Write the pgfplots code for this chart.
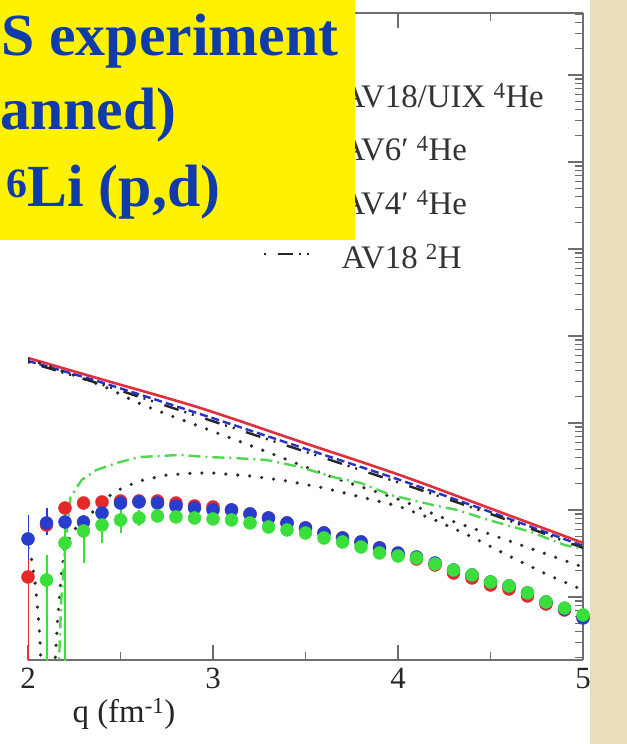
\documentclass[border=0pt]{standalone}
\usepackage{fontspec}
\setmainfont{Liberation Serif}
\usepackage{pgfplots}
\pgfplotsset{compat=1.18}
\usepackage{pgfplotstable}

\definecolor{lRed}{RGB}{226,45,60}
\definecolor{lBlue}{RGB}{40,50,200}
\definecolor{lGreen}{RGB}{80,215,80}
\definecolor{lDot}{RGB}{45,45,45}
\definecolor{dRed}{RGB}{232,40,40}
\definecolor{dBlue}{RGB}{40,60,205}
\definecolor{dGreen}{RGB}{60,222,60}
\definecolor{titleBlue}{RGB}{15,60,170}
\definecolor{beigeC}{RGB}{232,222,185}
\definecolor{axGray}{RGB}{110,110,110}

% AV18/UIX 4He (pn)
\pgfplotstableread{
q v
2.00 0.558
2.39 0.321
2.93 0.149
3.47 0.0612
4.01 0.0252
4.50 0.0104
5.00 0.00418
}\redline
% AV6' 4He (pn)
\pgfplotstableread{
q v
2.00 0.516
2.39 0.296
2.93 0.1268
3.47 0.0530
4.01 0.02213
4.50 0.00948
5.00 0.00386
}\blueline
% AV4' 4He (pn)
\pgfplotstableread{
q v
2.000 0.545
2.390 0.2735
2.623 0.161
3.023 0.0767
3.294 0.0464
3.473 0.0329
3.689 0.0221
4.014 0.0130
4.231 0.00832
4.447 0.00574
4.664 0.00396
5.000 0.00221
}\dotupper
% AV18 2H
\pgfplotstableread{
q v
2.00 0.502
2.39 0.2805
2.93 0.1172
3.47 0.0490
4.01 0.0204
4.50 0.0090
5.00 0.00366
}\dashdot
% AV4' 4He (pp)
\pgfplotstableread{
q v
2.000 0.00366
2.020 0.00266
2.040 0.001374
2.060 0.000476
2.075 0.000111
2.140 0.000111
2.160 0.000544
2.180 0.00179
2.200 0.00366
2.230 0.00516
2.280 0.0071
2.350 0.00948
2.430 0.01409
2.500 0.01742
2.600 0.02153
2.750 0.02523
2.900 0.0266
3.000 0.0266
3.200 0.0246
3.400 0.02153
3.600 0.0179
3.800 0.01409
4.000 0.01112
4.200 0.00767
4.400 0.0049
4.600 0.00296
4.800 0.001837
5.000 0.0012
}\dotlower
% green dash-dot
\pgfplotstableread{
q v
2.16 0.000065
2.18 0.000924
2.20 0.00347
2.23 0.01409
2.29 0.0221
2.37 0.02884
2.48 0.0347
2.60 0.0406
2.82 0.0429
2.97 0.0406
3.11 0.0396
3.29 0.0376
3.47 0.0312
3.65 0.0239
3.80 0.0204
3.96 0.01486
4.19 0.0114
4.32 0.0100
4.49 0.00767
4.72 0.00558
4.90 0.00396
5.00 0.00356
}\greenline

\pgfplotstableread{
q v ep em
2.0 0.001698 0.00134 0.00169
2.1 0.006723 0 0
2.2 0.01054 0 0
2.3 0.01203 0 0
2.4 0.01236 0 0
2.5 0.01269 0 0
2.6 0.01269 0 0
2.7 0.01269 0 0
2.8 0.01203 0 0
2.9 0.01112 0 0
3.0 0.01083 0 0
3.1 0.0100 0 0
3.2 0.008995 0 0
3.3 0.008092 0 0
3.4 0.007089 0 0
3.5 0.006210 0 0
3.6 0.005440 0 0
3.7 0.004766 0 0
3.8 0.004287 0 0
3.9 0.003658 0 0
4.0 0.003039 0 0
4.1 0.002734 0 0
4.2 0.002332 0 0
4.3 0.001887 0 0
4.4 0.001654 0 0
4.5 0.001374 0 0
4.6 0.001236 0 0
4.7 0.001027 0 0
4.8 0.000831 0 0
4.9 0.000709 0 0
5.0 0.000589 0 0
}\redpts
\pgfplotstableread{
q v ep em
2.0 0.004642 0.00412 0.00198
2.1 0.007089 0.00345 0.00193
2.2 0.007279 0 0
2.3 0.007279 0 0
2.4 0.009236 0 0
2.5 0.01203 0 0
2.6 0.01236 0 0
2.7 0.01203 0 0
2.8 0.01112 0 0
2.9 0.01054 0 0
3.0 0.0100 0 0
3.1 0.0100 0 0
3.2 0.008995 0 0
3.3 0.008092 0 0
3.4 0.007089 0 0
3.5 0.006210 0 0
3.6 0.005440 0 0
3.7 0.004766 0 0
3.8 0.004287 0 0
3.9 0.003658 0 0
4.0 0.003204 0 0
4.1 0.002882 0 0
4.2 0.002459 0 0
4.3 0.002043 0 0
4.4 0.001790 0 0
4.5 0.001487 0 0
4.6 0.001338 0 0
4.7 0.001112 0 0
4.8 0.000876 0 0
4.9 0.000728 0 0
5.0 0.000574 0 0
}\bluepts
\pgfplotstableread{
q v ep em
2.1 0.001568 0.00147 0.00156
2.2 0.004175 0.00724 0.00417
2.3 0.005736 0.00302 0.00328
2.4 0.006723 0.00328 0.00255
2.5 0.007675 0.00316 0.00224
2.6 0.008092 0.0019 0.00154
2.7 0.008531 0 0
2.8 0.008309 0 0
2.9 0.008092 0 0
3.0 0.007881 0 0
3.1 0.007675 0 0
3.2 0.007089 0 0
3.3 0.006376 0 0
3.4 0.005890 0 0
3.5 0.005440 0 0
3.6 0.004766 0 0
3.7 0.004287 0 0
3.8 0.003756 0 0
3.9 0.003204 0 0
4.0 0.002960 0 0
4.1 0.002807 0 0
4.2 0.002395 0 0
4.3 0.002043 0 0
4.4 0.001790 0 0
4.5 0.001487 0 0
4.6 0.001338 0 0
4.7 0.001112 0 0
4.8 0.000876 0 0
4.9 0.000747 0 0
5.0 0.000621 0 0
}\greenpts

\begin{document}
\begin{tikzpicture}
\useasboundingbox (0,0) rectangle (627bp,744bp);
\clip (0,0) rectangle (627bp,744bp);
\fill[white] (0,0) rectangle (627bp,744bp);
\fill[beigeC] (590bp,0) rectangle (627bp,744bp);
\begin{axis}[
  at={(28bp,84bp)}, anchor=south west,
  scale only axis, width=555bp, height=647bp,
  xmin=2, xmax=5,
  ymode=log, ymin=1.887e-4, ymax=5159,
  axis x line*=box, axis y line*=right,
  axis line style={-, axGray, line width=1.6bp},
  every tick/.style={axGray, line width=1.3bp},
  tick align=inside,
  major tick length=15bp, minor tick length=8bp,
  xtick={2,3,4,5}, minor xtick={2.5,3.5,4.5},
  ytick={1e-3,1e-2,1e-1,1,10,100,1000},
  minor ytick={2e-4,3e-4,4e-4,5e-4,6e-4,7e-4,8e-4,9e-4,
    2e-3,3e-3,4e-3,5e-3,6e-3,7e-3,8e-3,9e-3,
    2e-2,3e-2,4e-2,5e-2,6e-2,7e-2,8e-2,9e-2,
    0.2,0.3,0.4,0.5,0.6,0.7,0.8,0.9,
    2,3,4,5,6,7,8,9,20,30,40,50,60,70,80,90,
    200,300,400,500,600,700,800,900,2000,3000,4000,5000},
  yticklabels={},
  /pgf/number format/assume math mode=true,
  xticklabel style={font=\fontsize{31}{31}\selectfont, text=black!85, anchor=base, yshift=-28bp},
  xlabel={q (fm\textsuperscript{-1})},
  x label style={at={(axis description cs:0.173,0)}, anchor=base, yshift=-62bp, font=\fontsize{33}{33}\selectfont, text=black!85},
  legend style={draw=none, fill=none, at={(axis description cs:0.4216,0.8918)}, anchor=north west,
    inner sep=0pt, outer sep=0pt, row sep=21.7bp,
    font=\fontsize{33}{33}\selectfont, text=black!80,
    nodes={inner sep=0pt, text height=24bp, text depth=8bp},
    /tikz/every odd column/.append style={column sep=28bp}},
  legend cell align=left,
  legend image code/.code={\draw[#1] (0bp,6bp) -- (48bp,6bp);},
]
\addplot[lRed, line width=2.6bp, smooth] table[x=q,y=v] {\redline};
\addlegendentry{AV18/UIX \textsuperscript{4}He}
\addplot[lBlue, line width=2.4bp, dash pattern=on 8bp off 4bp, smooth] table[x=q,y=v] {\blueline};
\addlegendentry{AV6′ \textsuperscript{4}He}
\addplot[lDot, line width=3.6bp, line cap=round, dash pattern=on 0bp off 12bp, smooth] table[x=q,y=v] {\dotupper};
\addlegendentry{AV4′ \textsuperscript{4}He}
\addplot[black!85, line width=2.4bp, dash pattern=on 2bp off 12bp on 15bp off 6bp on 2bp off 6bp, smooth] table[x=q,y=v] {\dashdot};
\addlegendentry{AV18 \textsuperscript{2}H}
\addplot[lDot, line width=3.6bp, line cap=round, dash pattern=on 0bp off 12bp, forget plot] table[x=q,y=v] {\dotlower};
\addplot[lGreen, line width=2.4bp, dash pattern=on 12bp off 5bp on 2bp off 5bp, forget plot] table[x=q,y=v] {\greenline};

\addplot[only marks, mark=*, mark size=6.5bp, color=dRed, forget plot,
  error bars/.cd, y dir=both, y explicit, error mark=none,
  error bar style={line width=2bp, dRed}]
  table[x=q, y=v, y error plus=ep, y error minus=em] {\redpts};
\addplot[only marks, mark=*, mark size=6.5bp, color=dBlue, forget plot,
  error bars/.cd, y dir=both, y explicit, error mark=none,
  error bar style={line width=2bp, dBlue}]
  table[x=q, y=v, y error plus=ep, y error minus=em] {\bluepts};
\addplot[only marks, mark=*, mark size=6.5bp, color=dGreen, forget plot,
  error bars/.cd, y dir=both, y explicit, error mark=none,
  error bar style={line width=2bp, dGreen}]
  table[x=q, y=v, y error plus=ep, y error minus=em] {\greenpts};
\end{axis}
\fill[yellow] (0,504bp) rectangle (355bp,744bp);
\begin{scope}[every node/.style={anchor=base west, inner sep=0pt, text=titleBlue, font=\bfseries\fontsize{60}{60}\selectfont}]
\node at (1bp,688bp) {S experiment};
\node at (0bp,614bp) {anned)};
\node at (6bp,537bp) {\textsuperscript{6}Li (p,d)};
\end{scope}
\end{tikzpicture}
\end{document}
